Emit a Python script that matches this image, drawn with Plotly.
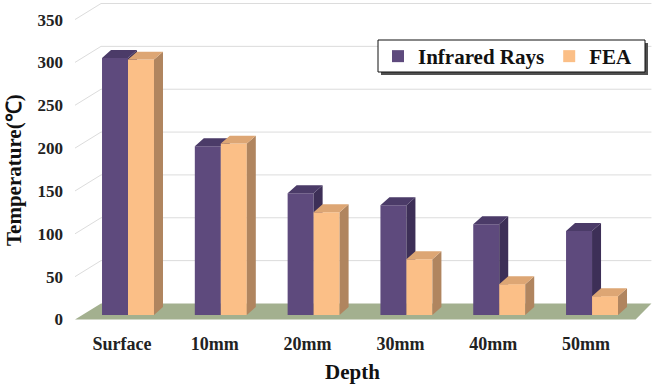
import plotly.graph_objects as go

# ---------------- data ----------------
categories = ["Surface", "10mm", "20mm", "30mm", "40mm", "50mm"]
infrared = [300, 197, 142, 128, 106, 98]
fea = [298, 200, 120, 65, 36, 22]
series_names = ["Infrared Rays", "FEA"]
ytick_vals = [0, 50, 100, 150, 200, 250, 300, 350]

# ---------------- style ----------------
FONT = "Liberation Serif"
PUR_FRONT, PUR_TOP, PUR_SIDE = "#5E4A7D", "#4B3B68", "#3D2F57"
FEA_FRONT, FEA_TOP, FEA_SIDE = "#FBBF87", "#DDA674", "#B0855F"
FLOOR = "#A3B08F"
GRID = "#DCDCDC"

W, H = 658, 387
ML, MR, MT, MB = 70, 1, 1, 60
K = 0.857            # pixels per value unit
BAR_W = 0.28         # bar width in category units
DX, DY = 0.097, 9.3  # 3D depth offsets (x units, value units)
FLOOR_DY = 18.7      # floor / wall depth (value units)
XR = [-0.625, 5.70]
plot_h = H - MT - MB
Y_TOP = (319.5 - MT) / K
YR = [Y_TOP - plot_h / K, Y_TOP]
Y2_TOP = (315 - MT) / K
Y2R = [Y2_TOP - plot_h / K, Y2_TOP]

fig = go.Figure()

# floor (label axis)
fl_front = (-0.571, 5.47)
fl_back = (-0.291, 5.64)
fig.add_trace(go.Scatter(
    x=[fl_front[0], fl_front[1], fl_back[1], fl_back[0], fl_front[0]],
    y=[0, 0, FLOOR_DY, FLOOR_DY, 0],
    fill="toself", fillcolor=FLOOR, mode="lines", line=dict(width=0),
    showlegend=False, hoverinfo="skip", xaxis="x", yaxis="y"))

# gridlines (slanted side wall + back wall)
gx, gy = [], []
for v in ytick_vals[1:]:
    gx += [fl_front[0], fl_back[0], fl_back[1], None]
    gy += [v, v + FLOOR_DY, v + FLOOR_DY, None]
fig.add_trace(go.Scatter(x=gx, y=gy, mode="lines", line=dict(color=GRID, width=1),
                         showlegend=False, hoverinfo="skip", xaxis="x", yaxis="y"))


def faces(lefts, vals):
    tx, ty, sx, sy = [], [], [], []
    for xl, v in zip(lefts, vals):
        xr = xl + BAR_W
        tx += [xl, xr, xr + DX, xl + DX, xl, None]
        ty += [v, v, v + DY, v + DY, v, None]
        sx += [xr, xr + DX, xr + DX, xr, xr, None]
        sy += [0, DY, v + DY, v, 0, None]
    return tx, ty, sx, sy


xs = list(range(len(categories)))
specs = [
    (series_names[0], infrared, -BAR_W, PUR_FRONT, PUR_TOP, PUR_SIDE, "y2"),
    (series_names[1], fea, 0.0, FEA_FRONT, FEA_TOP, FEA_SIDE, "y3"),
]
for name, vals, off, cf, ct, cs, ya in specs:
    fig.add_trace(go.Bar(x=xs, y=vals, width=BAR_W, offset=off, name=name,
                         marker=dict(color=cf, line=dict(width=0)),
                         xaxis="x", yaxis=ya))
    lefts = [x + off for x in xs]
    tx, ty, sx, sy = faces(lefts, vals)
    fig.add_trace(go.Scatter(x=sx, y=sy, fill="toself", fillcolor=cs, mode="lines",
                             line=dict(width=0), showlegend=False, hoverinfo="skip",
                             xaxis="x", yaxis=ya))
    fig.add_trace(go.Scatter(x=tx, y=ty, fill="toself", fillcolor=ct, mode="lines",
                             line=dict(width=0), showlegend=False, hoverinfo="skip",
                             xaxis="x", yaxis=ya))

pb = H - MB  # plot bottom in px


def px_x(p):
    return (p - ML) / (W - ML - MR)


def px_y(p):
    return (pb - p) / plot_h


# legend frame: soft shadow + white box with dark border
fig.add_shape(type="rect", xref="paper", yref="paper",
              x0=px_x(381), x1=px_x(648), y0=px_y(75), y1=px_y(43),
              fillcolor="#505050", line=dict(width=0), layer="above")
fig.add_shape(type="rect", xref="paper", yref="paper",
              x0=px_x(378), x1=px_x(645), y0=px_y(72), y1=px_y(40),
              fillcolor="white", line=dict(color="#111", width=1), layer="above")

fig.update_layout(
    width=W, height=H,
    margin=dict(l=ML, r=MR, t=MT, b=MB),
    paper_bgcolor="white", plot_bgcolor="white",
    font=dict(family=FONT, color="#222"),
    showlegend=True,
    legend=dict(orientation="h", x=px_x(378), y=px_y(36), xanchor="left", yanchor="top",
                bgcolor="rgba(0,0,0,0)", borderwidth=0,
                font=dict(family=FONT, size=21, color="#111", weight="bold"),
                traceorder="normal"),
    xaxis=dict(range=XR, tickvals=xs, ticktext=categories, showgrid=False,
               zeroline=False, showline=False, ticks="", ticklabelshift=-6,
               ticklabelstandoff=4,
               tickfont=dict(family=FONT, size=18, color="#222", weight="bold")),
    yaxis=dict(range=YR, tickvals=ytick_vals, showgrid=False, zeroline=False,
               showline=False, ticks="", ticklabelstandoff=6,
               tickfont=dict(family=FONT, size=17, color="#222", weight="bold")),
    yaxis2=dict(range=Y2R, overlaying="y", visible=False),
    yaxis3=dict(range=Y2R, overlaying="y", visible=False),
    annotations=[
        dict(text="Depth", xref="paper", yref="paper", x=px_x(352), y=px_y(372),
             xanchor="center", yanchor="middle", showarrow=False,
             font=dict(family=FONT, size=21, color="#111", weight="bold")),
        dict(text="Temperature(℃)", xref="paper", yref="paper", x=px_x(14), y=px_y(170),
             xanchor="center", yanchor="middle", showarrow=False, textangle=-90,
             font=dict(family=FONT, size=21, color="#111", weight="bold")),
    ],
)

fig.write_html("out.html")
